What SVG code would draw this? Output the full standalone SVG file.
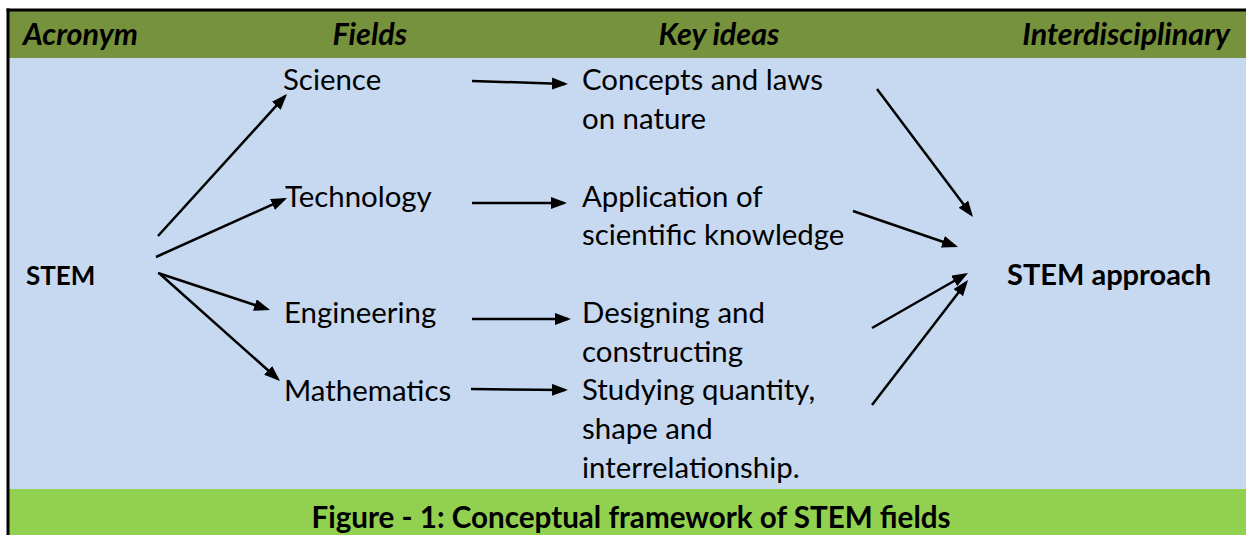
<svg xmlns="http://www.w3.org/2000/svg" width="1246" height="535" viewBox="0 0 1246 535">
  <style>
    .hdr { font-family: Lato, "Liberation Sans", sans-serif; font-size: 30.5px; font-weight: bold; font-style: italic; fill: #000; }
    .txt { font-family: Lato, "Liberation Sans", sans-serif; font-size: 29.4px; fill: #000; }
    .bold { font-family: Lato, "Liberation Sans", sans-serif; font-weight: bold; fill: #000; }
    .cap { font-family: Lato, "Liberation Sans", sans-serif; font-size: 29.6px; font-weight: bold; fill: #000; }
    .conn line { stroke: #000; stroke-width: 2.5; marker-end: url(#head); }
  </style>
  <defs>
    <marker id="head" markerUnits="userSpaceOnUse" markerWidth="17" markerHeight="13" refX="13" refY="6" orient="auto">
      <path d="M0,0 L16,6 L0,12 z" fill="#000"/>
    </marker>
  </defs>

  <!-- background bands -->
  <rect x="0" y="0" width="1246" height="535" fill="#ffffff"/>
  <rect x="8" y="10" width="1238" height="48" fill="#76923C"/>
  <rect x="8" y="58" width="1238" height="431" fill="#C6D9F1"/>
  <rect x="8" y="489" width="1238" height="46" fill="#92D050"/>
  <!-- frame -->
  <line x1="6.5" y1="10" x2="1246" y2="10" stroke="#000" stroke-width="3"/>
  <line x1="8" y1="8.5" x2="8" y2="535" stroke="#000" stroke-width="3"/>

  <!-- column headings -->
  <g id="headings">
    <text class="hdr" x="23" y="45">Acronym</text>
    <text class="hdr" x="407" y="45" text-anchor="end">Fields</text>
    <text class="hdr" x="719" y="45" text-anchor="middle">Key ideas</text>
    <text class="hdr" x="1230" y="45" text-anchor="end">Interdisciplinary</text>
  </g>

  <g id="stem"><text class="bold" font-size="26" x="26" y="285">STEM</text></g>

  <g id="science"><text class="txt" x="283" y="90">Science</text></g>
  <g id="technology"><text class="txt" x="285" y="207">Technology</text></g>
  <g id="engineering"><text class="txt" x="284" y="323">Engineering</text></g>
  <g id="mathematics"><text class="txt" x="284" y="401">Mathematics</text></g>

  <g id="idea-science">
    <text class="txt" x="582" y="90">Concepts and laws</text>
    <text class="txt" x="582" y="129">on nature</text>
  </g>
  <g id="idea-technology">
    <text class="txt" x="582" y="207">Application of</text>
    <text class="txt" x="582" y="245">scientific knowledge</text>
  </g>
  <g id="idea-engineering">
    <text class="txt" x="582" y="323">Designing and</text>
    <text class="txt" x="582" y="362">constructing</text>
  </g>
  <g id="idea-mathematics">
    <text class="txt" x="582" y="400">Studying quantity,</text>
    <text class="txt" x="582" y="439">shape and</text>
    <text class="txt" x="582" y="478">interrelationship.</text>
  </g>

  <g id="stem-approach"><text class="bold" font-size="29" x="1007" y="285">STEM approach</text></g>

  <g id="caption"><text class="cap" x="631" y="528" text-anchor="middle">Figure - 1: Conceptual framework of STEM fields</text></g>

  <!-- connectors -->
  <g class="conn" id="connectors">
    <line x1="158" y1="236" x2="285" y2="96.2"/>
    <line x1="156" y1="257" x2="284.3" y2="199.2"/>
    <line x1="158" y1="273" x2="267.2" y2="309.1"/>
    <line x1="160" y1="274" x2="277.8" y2="379"/>
    <line x1="472" y1="81" x2="565" y2="83.9"/>
    <line x1="472" y1="203" x2="564" y2="203"/>
    <line x1="472" y1="319" x2="568" y2="319"/>
    <line x1="471" y1="389" x2="565" y2="390"/>
    <line x1="877" y1="89" x2="971.2" y2="214.6"/>
    <line x1="853" y1="211" x2="955.2" y2="246"/>
    <line x1="872" y1="328" x2="965.4" y2="274.5"/>
    <line x1="872" y1="405" x2="966.2" y2="282.4"/>
  </g>
</svg>
